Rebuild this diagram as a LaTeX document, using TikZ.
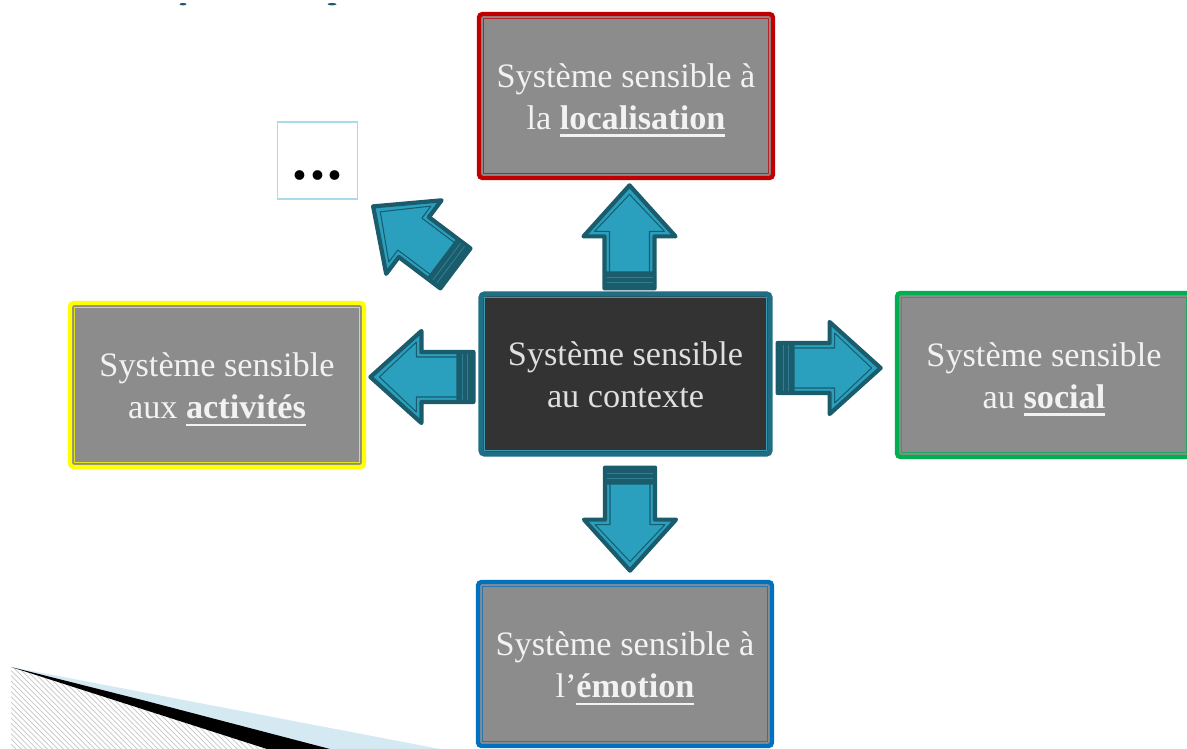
\documentclass[tikz,border=0pt]{standalone}
\usepackage{fontspec}
\setmainfont{Liberation Serif}
\usetikzlibrary{calc,patterns}

\definecolor{boxgray}{HTML}{8C8C8C}
\definecolor{txt}{HTML}{F2F2F2}
\definecolor{ctrfill}{HTML}{333333}
\definecolor{ctrteal}{HTML}{1F6E84}
\definecolor{ctrline}{HTML}{3C98AE}
\definecolor{redb}{HTML}{C00000}
\definecolor{yellowb}{HTML}{FFFF00}
\definecolor{greenb}{HTML}{00B050}
\definecolor{blueb}{HTML}{0070C0}
\definecolor{morebox}{HTML}{A8DCEA}
\definecolor{arrowfill}{HTML}{2AA0BE}
\definecolor{arrowdark}{HTML}{1A5C6C}
\definecolor{arrowmid}{HTML}{2F7F92}
\definecolor{paleblue}{HTML}{D4E9F1}

% bold, underlined keyword
\newcommand\keyword[1]{\setbox0\hbox{\bfseries #1}\rlap{\rule[-3.8pt]{\wd0}{1.2pt}}\box0}
% two centred lines of box text, set a little below the box centre
\newcommand\twolines[2]{\raisebox{-7.7pt}[0pt][0pt]{\begin{tabular}{@{}c@{}}#1\\#2\end{tabular}}}

% block arrow: base at #1, pointing at angle #2
\newcommand\blockarrow[2]{%
  \begin{scope}[shift={#1}, rotate=#2]
    \filldraw[fill=arrowfill, draw=arrowdark, line width=2.4pt, line join=round]
      (0,-25) -- (52,-25) -- (52,-46) -- (103,0) -- (52,46) -- (52,25) -- (0,25) -- cycle;
    \draw[arrowdark, line width=0.6pt, line join=round]
      (16,-20) -- (57,-20) -- (57,-35) -- (94,0) -- (57,35) -- (57,20) -- (16,20);
    \fill[arrowdark, rounded corners=1pt] (-1,-26.5) rectangle (17,26.5);
    \draw[arrowmid, line width=0.5pt] (6,-23) -- (6,23) (11,-23) -- (11,23);
  \end{scope}}

\tikzset{
  sysbox/.style={rectangle, rounded corners=2pt, fill=boxgray, line width=2.5pt,
    minimum width=5.88cm, minimum height=3.28cm, text=txt,
    font=\fontsize{19.5}{24}\selectfont, inner sep=0pt},
  innerline/.style={line width=0.6pt, draw=#1},
}

\begin{document}
\begin{tikzpicture}[x=0.02cm, y=-0.02cm]
\useasboundingbox (0,0) rectangle (1187,749);

% hatched corner ornament, bottom left
\fill[pattern=north west lines, pattern color=gray!45] (11,667) -- (267,749) -- (11,749) -- cycle;
\fill[paleblue] (11,667) -- (440,749) -- (330,749) -- cycle;
\fill[black] (11,667) -- (150,702) -- (330,749) -- (267,749) -- cycle;

% cut-off title marks
\fill[arrowdark] (183,4.2) ellipse (3.5 and 1.2);
\fill[arrowdark] (332,4.2) ellipse (4.5 and 1.2);

% category boxes
\node[sysbox, draw=redb] (loc) at (626,96) {\twolines{Système sensible à}{la \keyword{localisation}}};
\node[sysbox, draw=yellowb] (act) at (217,385) {\twolines{Système sensible}{aux \keyword{activités}}};
\node[sysbox, draw=greenb] (soc) at (1044,375) {\twolines{Système sensible}{au \keyword{social}}};
\node[sysbox, draw=blueb] (emo) at (625,664) {\twolines{Système sensible à}{l’\keyword{émotion}}};

\foreach \b/\c in {loc/redb, act/yellowb, soc/greenb, emo/blueb}
  \draw[innerline=\c!75!boxgray] ($(\b.north west)+(6.5,6.5)$) rectangle ($(\b.south east)+(-6.5,-6.5)$);

% central box
\node[sysbox, fill=ctrfill, draw=ctrteal, line width=3pt, minimum width=5.78cm,
      minimum height=3.2cm, text=txt!92!black] (ctr) at (625.5,374)
      {\twolines{Système sensible}{au contexte}};
\draw[innerline=ctrline] ($(ctr.north west)+(6.5,6.5)$) rectangle ($(ctr.south east)+(-6.5,-6.5)$);

% the "..." box
\node[draw=morebox, line width=0.9pt, minimum width=1.6cm, minimum height=1.54cm,
      inner sep=0pt] (more) at (317.5,160.5) {};
\node[font=\bfseries\fontsize{34}{34}\selectfont, anchor=base, inner sep=0pt]
      (dots) at ($(more.south)+(0,-20)$) {.\kern1.3pt.\kern1.3pt.};

% arrows out of the central box
\blockarrow{($(ctr.north)+(4,-3)$)}{90}
\blockarrow{($(ctr.west)+(-5,3)$)}{180}
\blockarrow{($(ctr.east)+(5,-6)$)}{0}
\blockarrow{($(ctr.south)+(4.5,11)$)}{270}
\blockarrow{($(ctr.north west)+(-23,-23)$)}{143}
\end{tikzpicture}
\end{document}
